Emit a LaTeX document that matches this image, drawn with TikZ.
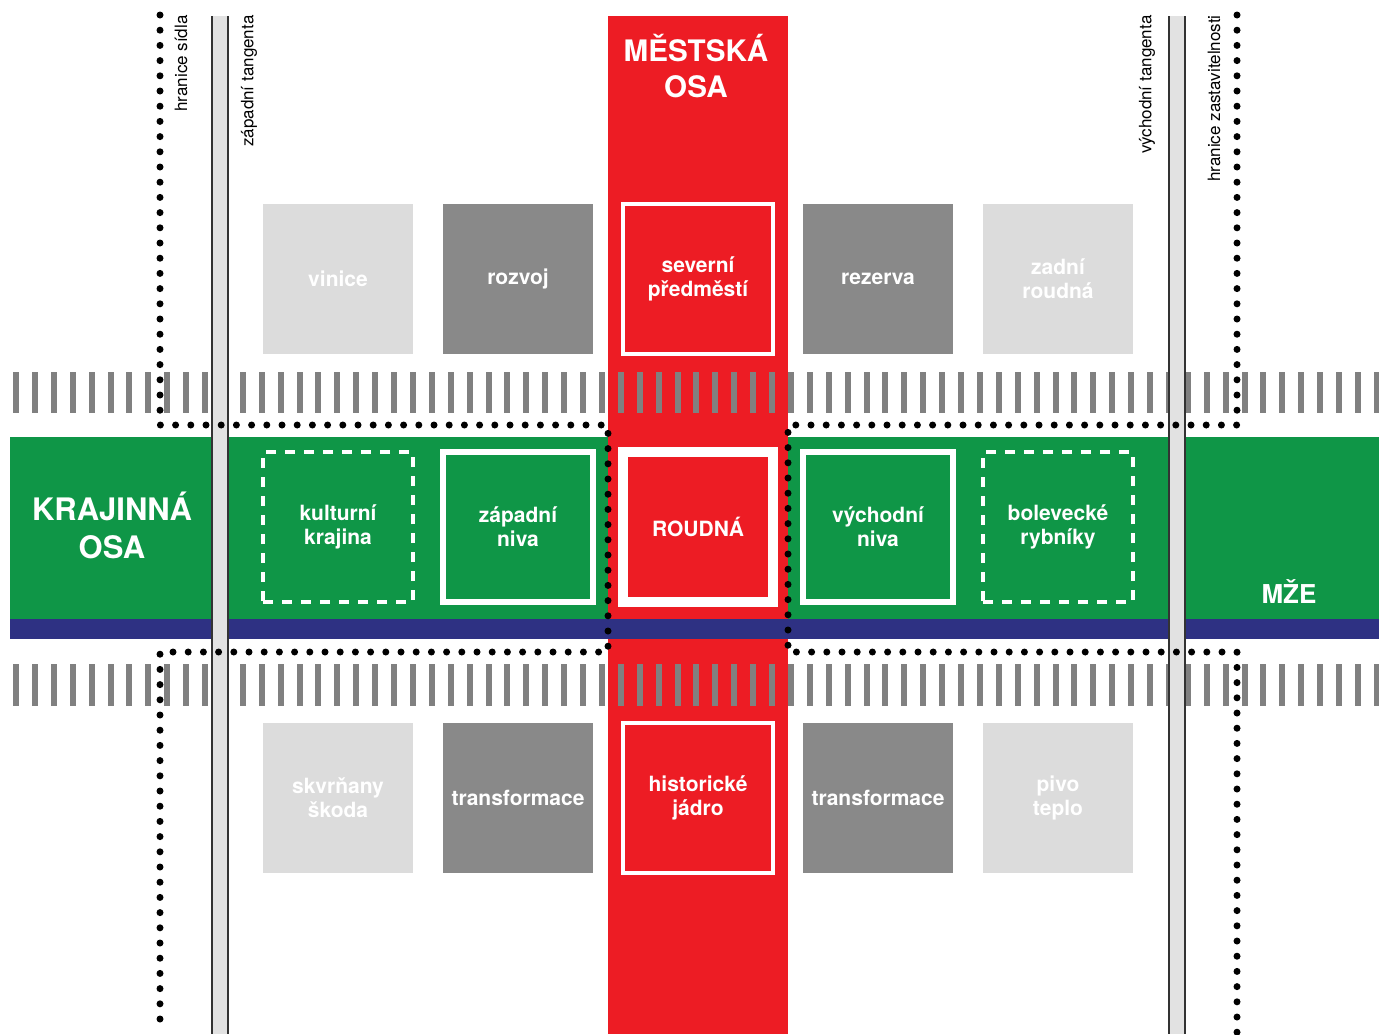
\documentclass[tikz,border=0pt]{standalone}
\usepackage{fontspec}
\setmainfont{TeX Gyre Heros}
\usetikzlibrary{positioning}

\definecolor{osared}{HTML}{ED1C24}
\definecolor{osagreen}{HTML}{0F9647}
\definecolor{riverblue}{HTML}{2E3183}
\definecolor{darkbox}{HTML}{898989}
\definecolor{lightbox}{HTML}{DCDCDC}
\definecolor{railgray}{HTML}{808080}
\definecolor{roadgray}{HTML}{E2E2E2}

\begin{document}
\begin{tikzpicture}[x=0.5pt,y=-0.5pt]
\tikzset{
     area/.style={minimum size=75pt, inner sep=0pt, outer sep=0pt, align=center, text=white,
                  font=\bfseries\fontsize{10.5}{12}\selectfont},
     darkarea/.style={area, fill=darkbox},
     lightarea/.style={area, fill=lightbox},
     redarea/.style={area, fill=osared, draw=white, line width=2pt},
     nivaarea/.style={area, draw=white, line width=3pt},
     dasharea/.style={area, draw=white, line width=1.75pt, dash pattern=on 5pt off 4.5pt},
     boundary/.style={line width=3.5pt, line cap=round, dash pattern=on 0pt off 7.6pt},
     axislabel/.style={text=white, align=center, font=\bfseries\fontsize{15.5}{19}\selectfont},
     sidelabel/.style={rotate=90, anchor=east, inner sep=0pt, font=\fontsize{8.5}{10}\selectfont}}

\def\westroad{(212,16) rectangle (228,1034)}
\def\eastroad{(1169,16) rectangle (1185,1034)}

\useasboundingbox (0,0) rectangle (1379,1034);
\fill[white] (0,0) rectangle (1379,1034);

% The axes
\fill[osagreen] (10,437) rectangle (1379,619);
\fill[osared] (608,16) rectangle (788,1034);
\fill[riverblue] (10,619) rectangle (1379,639);

% The railways
\foreach \i in {0,...,72}{
  \fill[railgray] ({13+18.9*\i},372) rectangle +(6,41);
  \fill[railgray] ({13+18.9*\i},664) rectangle +(6,42);
}

% The tangents
\fill[roadgray] \westroad;
\fill[roadgray] \eastroad;
\draw[black!80, line width=0.8pt] (212,16) -- (212,1034) (228,16) -- (228,1034);
\draw[black!80, line width=0.8pt] (1169,16) -- (1169,1034) (1185,16) -- (1185,1034);

% The areas
\node (roudna) [redarea, line width=5pt] at (698,527) {ROUDNÁ};
\node (zapadniniva) [nivaarea, left=15pt of roudna] {západní\\niva};
\node (kulturni) [dasharea, left=15pt of zapadniniva] {kulturní\\krajina};
\node (vychodniniva) [nivaarea, right=15pt of roudna] {východní\\niva};
\node (bolevecke) [dasharea, right=15pt of vychodniniva] {bolevecké\\rybníky};

\node (severni) [redarea] at (698,279) {severní\\předměstí};
\node (rozvoj) [darkarea, left=15pt of severni] {rozvoj};
\node (vinice) [lightarea, left=15pt of rozvoj] {vinice};
\node (rezerva) [darkarea, right=15pt of severni] {rezerva};
\node (zadni) [lightarea, right=15pt of rezerva] {zadní\\roudná};

\node (historicke) [redarea] at (698,798) {historické\\jádro};
\node (transzapad) [darkarea, left=15pt of historicke] {transformace};
\node (skvrnany) [lightarea, left=15pt of transzapad] {skvrňany\\škoda};
\node (transvychod) [darkarea, right=15pt of historicke] {transformace};
\node (pivo) [lightarea, right=15pt of transvychod] {pivo\\teplo};

% The boundaries
\draw[boundary] (160,15) -- (160,425) -- (608,425) -- (608,652) -- (160,652) -- (160,1034);
\draw[boundary] (1237,15) -- (1237,425) -- (788,425) -- (788,652) -- (1237,652) -- (1237,1034);

% The labels
\node (krajinna) [axislabel] at (112,525) {KRAJINNÁ\\OSA};
\node (mestska) [axislabel, font=\bfseries\fontsize{14.8}{18}\selectfont] at (696,66) {MĚSTSKÁ\\OSA};
\node (mze) [axislabel, font=\bfseries\fontsize{13}{15}\selectfont] at (1289,591) {MŽE};

\node (hranicesidla) [sidelabel] at (181,15) {hranice sídla};
\node (zapadnitang) [sidelabel] at (249,15) {západní tangenta};
\node (vychodnitang) [sidelabel] at (1147,15) {východní tangenta};
\node (hranicezast) [sidelabel] at (1214,15) {hranice zastavitelnosti};
\end{tikzpicture}
\end{document}
